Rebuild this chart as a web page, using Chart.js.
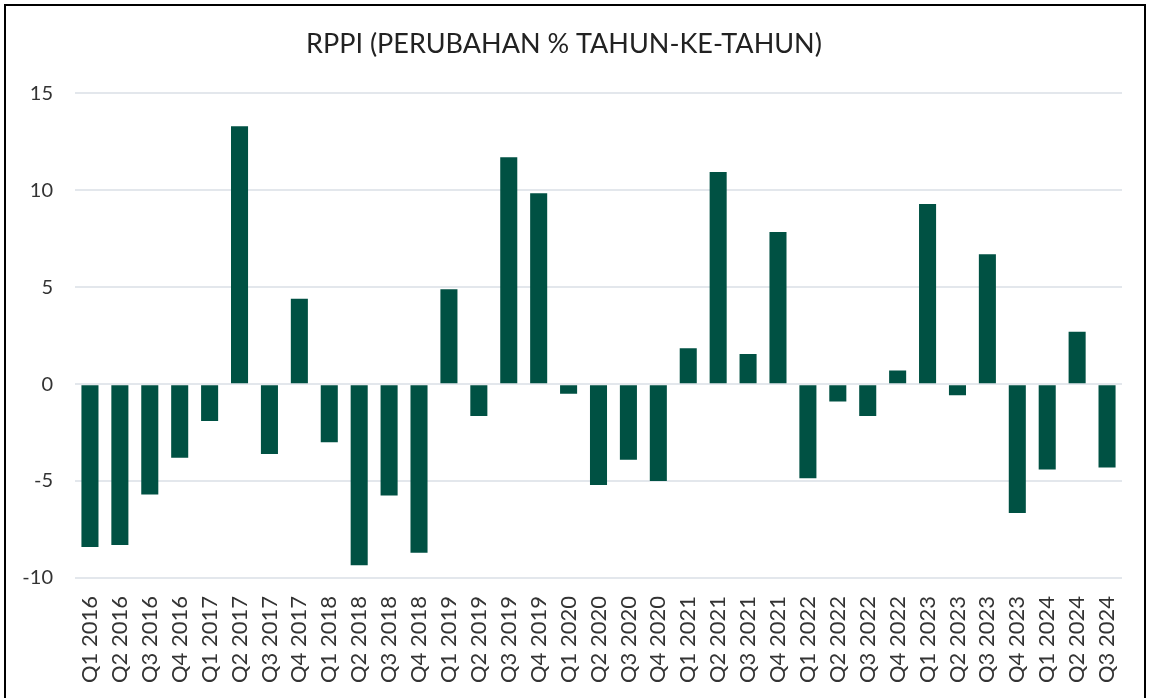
<!DOCTYPE html>
<html><head><meta charset="utf-8">
<script src="https://cdn.jsdelivr.net/npm/chart.js@4/dist/chart.umd.min.js"></script>
<style>
html,body{margin:0;padding:0;background:#fff;overflow:hidden}
#box{position:absolute;left:4px;top:4px;width:1142px;height:700px;border:2px solid #000;box-sizing:border-box;background:#fff}
#c{display:block}
</style></head><body>
<div id="box"><canvas id="c" width="1138" height="696"></canvas></div>
<script>
const categories = ["Q1 2016","Q2 2016","Q3 2016","Q4 2016","Q1 2017","Q2 2017","Q3 2017","Q4 2017","Q1 2018","Q2 2018","Q3 2018","Q4 2018","Q1 2019","Q2 2019","Q3 2019","Q4 2019","Q1 2020","Q2 2020","Q3 2020","Q4 2020","Q1 2021","Q2 2021","Q3 2021","Q4 2021","Q1 2022","Q2 2022","Q3 2022","Q4 2022","Q1 2023","Q2 2023","Q3 2023","Q4 2023","Q1 2024","Q2 2024","Q3 2024"];
const rppiValues = [-8.4,-8.3,-5.7,-3.8,-1.9,13.3,-3.6,4.4,-3.0,-9.35,-5.75,-8.7,4.9,-1.65,11.7,9.85,-0.5,-5.2,-3.9,-5.0,1.85,10.95,1.55,7.85,-4.85,-0.9,-1.65,0.7,9.3,-0.57,6.7,-6.65,-4.4,2.7,-4.3];
const yTicks = [-10,-5,0,5,10,15];
const titleText = "RPPI (PERUBAHAN % TAHUN-KE-TAHUN)";

new Chart(document.getElementById('c'), {
  type: 'bar',
  data: { labels: categories, datasets: [{ data: rppiValues, backgroundColor: '#005143', borderWidth: 0, barPercentage: 0.57, categoryPercentage: 1.0 }] },
  options: {
    responsive: false, animation: false,
    layout: { padding: { left: 0, right: 22, top: 12, bottom: 9 } },
    plugins: {
      legend: { display: false }, tooltip: { enabled: false },
      title: { display: true, text: titleText, color: '#222', font: { family: 'Lato', size: 27, weight: 'normal' }, padding: { top: 10, bottom: 33 } }
    },
    scales: {
      x: { grid: { display: false }, border: { display: false },
           ticks: { color: '#333', font: { family: 'Lato', size: 22 }, minRotation: 90, maxRotation: 90, autoSkip: false, padding: 10 } },
      y: { min: -10, max: 15, afterBuildTicks: a => { a.ticks = yTicks.map(v => ({ value: v })); },
           afterFit: s => { s.width = 69; },
           grid: { color: '#e3e7ec', lineWidth: 2, drawTicks: false }, border: { display: false },
           ticks: { color: '#333', font: { family: 'Lato', size: 20 }, padding: 22 } }
    }
  }
});
</script></body></html>
